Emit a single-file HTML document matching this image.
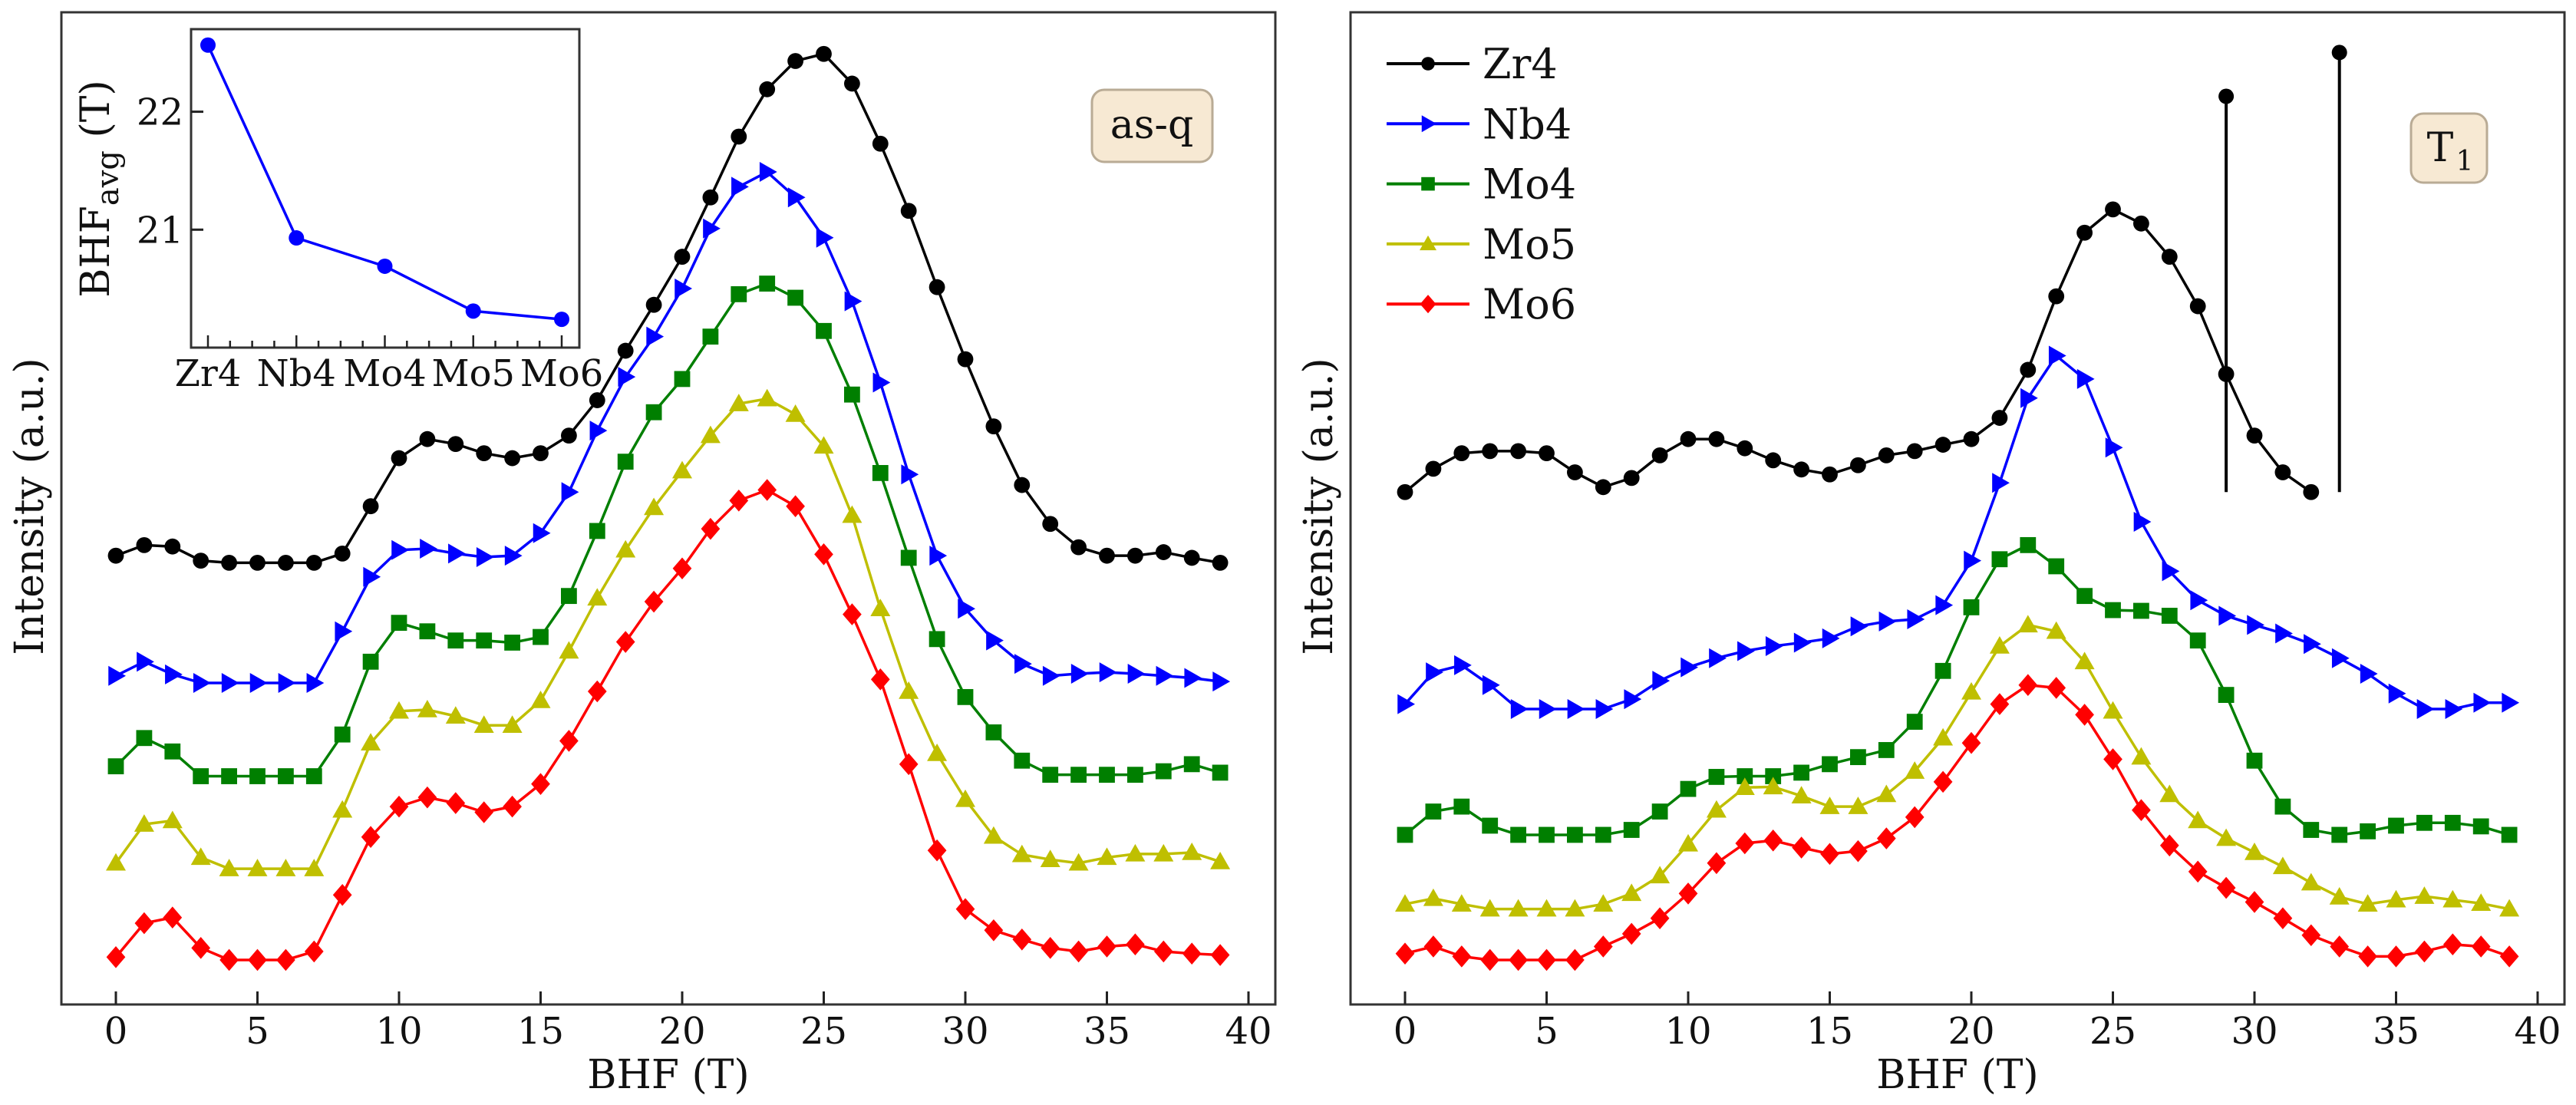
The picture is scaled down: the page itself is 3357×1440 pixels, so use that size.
<!DOCTYPE html>
<html><head><meta charset="utf-8"><style>
html,body{margin:0;padding:0;background:#fff;}
svg{display:block;font-family:"DejaVu Serif","Liberation Serif",serif;}
</style></head><body>
<svg id="fig" width="3357" height="1440" viewBox="0 0 3357 1440" xmlns="http://www.w3.org/2000/svg"></svg>
<script>
// x positions (BHF, T)
const bhf = Array.from({length:40},(_,i)=>i);
// left panel (as-q) intensities, arbitrary units (height above baseline)
const asqZr4=[635,650,648,628,625,625,625,625,638,705,773,800,793,780,773,780,805,855,925,990,1058,1142,1228,1295,1335,1345,1303,1218,1123,1015,913,818,735,680,647,635,635,640,632,625];
const asqNb4=[465,485,467,455,455,455,455,455,528,605,643,645,638,633,635,667,725,812,888,945,1013,1098,1157,1178,1142,1085,995,880,750,635,560,515,482,465,468,470,468,465,462,457];
const asqMo4=[337,377,358,323,323,323,323,323,382,485,540,528,515,515,512,520,578,670,768,838,885,945,1005,1020,1000,953,863,752,632,517,435,385,345,325,325,325,325,330,340,328];
const asqMo5=[200,255,260,208,192,192,192,192,275,370,415,417,408,395,395,430,500,575,643,703,755,805,850,857,835,790,692,560,443,355,290,238,212,205,200,208,213,213,215,202];
const asqMo6=[67,115,123,80,63,63,63,75,155,237,280,293,285,272,280,312,373,443,513,570,617,673,713,728,705,637,552,460,340,218,135,105,92,80,75,82,85,75,72,70];
// right panel (T1) intensities
const t1Zr4=[725,758,780,783,783,780,753,732,745,777,800,800,787,770,757,750,763,777,783,792,800,830,898,1002,1092,1125,1105,1058,988,892,805,753,725];
const t1Nb4=[425,470,480,452,418,418,418,418,432,458,477,490,500,507,512,518,535,542,545,565,628,738,858,918,885,788,683,613,572,550,537,525,510,490,468,440,418,418,427,427];
const t1Mo4=[240,273,280,253,240,240,240,240,247,273,305,322,323,323,328,340,350,360,400,472,562,630,650,620,578,558,557,550,515,438,345,280,247,240,245,253,257,257,252,240];
const t1Mo5=[142,150,142,135,135,135,135,142,157,182,227,275,307,308,295,280,280,297,330,377,442,507,537,528,485,415,350,297,260,235,215,195,172,152,142,148,153,148,143,135];
const t1Mo6=[72,82,68,63,63,63,63,82,100,122,157,200,228,232,222,213,217,235,265,315,370,425,452,448,410,347,275,225,188,165,145,122,98,82,68,68,75,85,82,68];
// reference stick lines (T1 panel)
const stickX=[29,33];
const stickTop=[1285,1347];
const stickBase=[725,725];
// inset data
const insetCats=["Zr4","Nb4","Mo4","Mo5","Mo6"];
const insetVals=[22.565,20.93,20.69,20.31,20.24];
const insetTicks=[21,22];
const xTicks=[0,5,10,15,20,25,30,35,40];
const seriesNames=["Zr4","Nb4","Mo4","Mo5","Mo6"];

const NS="http://www.w3.org/2000/svg";
const svg=document.getElementById('fig');
function el(tag,attrs,parent,text){const e=document.createElementNS(NS,tag);for(const k in attrs)e.setAttribute(k,attrs[k]);if(text!==undefined)e.textContent=text;(parent||svg).appendChild(e);return e;}

const colors=["#000000","#0000ff","#007f00","#bfbf00","#ff0000"];
const shapes=["circle","tri-right","square","tri-up","diamond"];
const Y0=1309, YS=0.921;
function marker(g,shape,cx,cy,color,s){
  let m;
  if(shape==="circle") m=el('circle',{cx:cx,cy:cy,r:s*0.8,fill:color},g);
  else if(shape==="square") m=el('rect',{x:cx-s*0.8,y:cy-s*0.8,width:s*1.6,height:s*1.6,fill:color},g);
  else if(shape==="diamond") m=el('polygon',{points:`${cx},${cy-s*1.1} ${cx+s*0.95},${cy} ${cx},${cy+s*1.1} ${cx-s*0.95},${cy}`,fill:color},g);
  else if(shape==="tri-up") m=el('polygon',{points:`${cx},${cy-s} ${cx+s},${cy+s*0.75} ${cx-s},${cy+s*0.75}`,fill:color},g);
  else m=el('polygon',{points:`${cx+s},${cy} ${cx-s*0.75},${cy-s} ${cx-s*0.75},${cy+s}`,fill:color},g);
  return m;
}

function panel(off,name,data,label){
  const L=80+off,R=1662+off,T=16,B=1309;
  const xs=v=>151+off+v*36.9;
  const ys=v=>Y0-v*YS;
  const g=el('g',{});
  
  
  const fr=el('rect',{x:L,y:T,width:R-L,height:B-T,fill:'none',stroke:'#333',"stroke-width":3},g);
  
  xTicks.forEach(t=>{
    const tk=el('line',{x1:xs(t),x2:xs(t),y1:B,y2:B-17,stroke:'#222',"stroke-width":3},g);
    
    const tl=el('text',{x:xs(t),y:1360,"font-size":48,"text-anchor":"middle",fill:'#111'},g,String(t));
    
  });
  const xt=el('text',{x:(L+R)/2,y:1418,"font-size":52,"text-anchor":"middle",fill:'#111'},g,'BHF (T)');
  
  const yt=el('text',{x:0,y:0,"font-size":52,"text-anchor":"middle",fill:'#111',transform:`translate(${off+56},660) rotate(-90)`},g,'Intensity (a.u.)');
  
  data.forEach((arr,si)=>{
    const sg=el('g',{},g);
    
    
    const pts=arr.map((v,i)=>xs(bhf[i])+','+ys(v)).join(' ');
    el('polyline',{points:pts,fill:'none',stroke:colors[si],"stroke-width":3.5},sg);
    arr.forEach((v,i)=>{const m=marker(sg,shapes[si],xs(bhf[i]),ys(v),colors[si],13);
      });
  });
  return {g,xs,ys};
}

const left=panel(0,'as-q',[asqZr4,asqNb4,asqMo4,asqMo5,asqMo6]);
const right=panel(1680,'t1',[t1Zr4,t1Nb4,t1Mo4,t1Mo5,t1Mo6]);

// sticks
stickX.forEach((sx,i)=>{
  const x=right.xs(sx);
  const l=el('line',{x1:x,x2:x,y1:right.ys(stickBase[i]),y2:right.ys(stickTop[i]),stroke:'#000',"stroke-width":4});
  
  const c=el('circle',{cx:x,cy:right.ys(stickTop[i]),r:10,fill:'#000'});
  
});

// label boxes
function tagBox(x,y,w,h,name){
  const r=el('rect',{x:x,y:y,width:w,height:h,rx:16,fill:'#f7e9d3',stroke:'#b9ab95',"stroke-width":3});
  
}
tagBox(1423,117,157,94,'as-q-label-box');
const aq=el('text',{x:1501,y:180,"font-size":52,"text-anchor":"middle",fill:'#111'},null,'as-q');

tagBox(3142,148,99,90,'t1-label-box');
const t1=el('text',{x:3180,y:210,"font-size":52,"text-anchor":"middle",fill:'#111'},null,'T');

el('text',{x:3212,y:222,"font-size":36,"text-anchor":"middle",fill:'#111'},t1.parentNode,'1');

// legend
seriesNames.forEach((n,i)=>{
  const y=83+i*78.3;
  const g=el('g',{});
  
  
  el('line',{x1:1807,x2:1915,y1:y,y2:y,stroke:colors[i],"stroke-width":4},g);
  marker(g,shapes[i],1861,y,colors[i],11);
  el('text',{x:1932,y:y+19,"font-size":54,fill:'#111'},g,n);
});

// inset
const IL=249,IR=755,IT=38,IB=453;
const ix=i=>271+i*115.25;
const iy=v=>IB-((v-20.0)*(IB-IT)/2.7);
const ig=el('g',{});


el('rect',{x:IL,y:IT,width:IR-IL,height:IB-IT,fill:'#fff',stroke:'#333',"stroke-width":3},ig);
insetTicks.forEach(t=>{
  el('line',{x1:IL,x2:IL+16,y1:iy(t),y2:iy(t),stroke:'#222',"stroke-width":3},ig);
  const tl=el('text',{x:IL-10,y:iy(t)+17,"font-size":48,"text-anchor":"end",fill:'#111'},ig,String(t));
  
});
for(let k=0;k<=16;k++){const x=ix(0)+k*115.25/4;if(x>IR)break;
  el('line',{x1:x,x2:x,y1:IB,y2:IB-(k%4===0?16:9),stroke:'#222',"stroke-width":2.5},ig);}
insetCats.forEach((c,i)=>{
  const tl=el('text',{x:ix(i),y:IB+50,"font-size":48,"text-anchor":"middle",fill:'#111'},ig,c);
  
});
el('polyline',{points:insetVals.map((v,i)=>ix(i)+','+iy(v)).join(' '),fill:'none',stroke:'#0000ff',"stroke-width":3.5},ig);
insetVals.forEach((v,i)=>{const c=el('circle',{cx:ix(i),cy:iy(v),r:10,fill:'#0000ff'},ig);
  });
const iyt=el('text',{x:0,y:0,"font-size":52,"text-anchor":"middle",fill:'#111',transform:'translate(142,246) rotate(-90)'},ig);

el('tspan',{},iyt,'BHF');
el('tspan',{dy:12,"font-size":40},iyt,'avg');
el('tspan',{dy:-12},iyt,' (T)');
</script>
</body></html>
